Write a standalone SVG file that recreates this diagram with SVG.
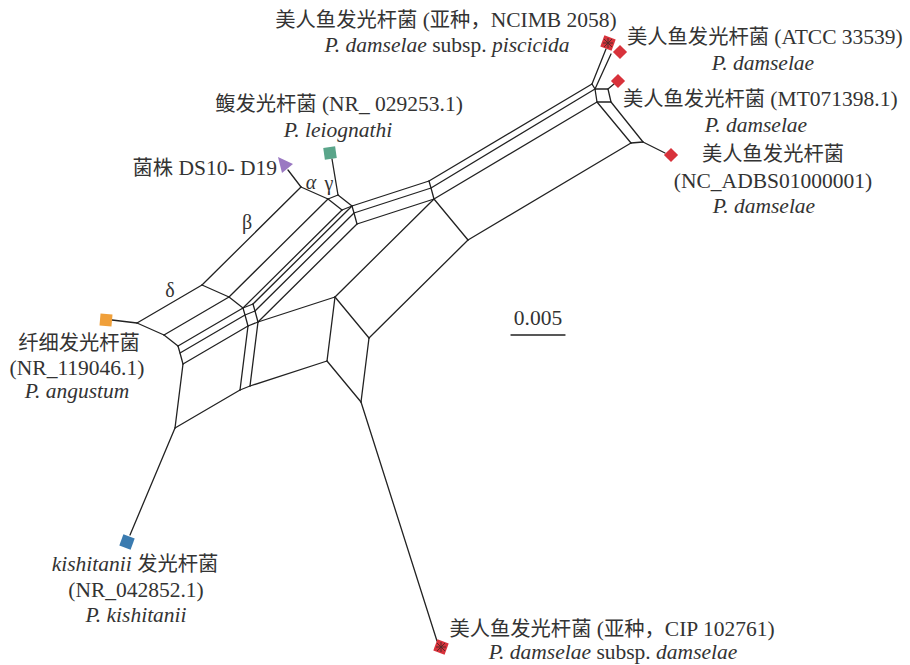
<svg xmlns="http://www.w3.org/2000/svg" width="910" height="665" viewBox="0 0 910 665">
<style>
.e{stroke:#222;stroke-width:1.3;fill:none;stroke-linecap:round;stroke-linejoin:round}
.t{font-family:"Liberation Serif","Noto Sans CJK SC",serif;font-size:21.5px;fill:#333}
.c{font-family:"Noto Sans CJK SC","Liberation Serif",sans-serif;font-size:20.3px}
.i{font-style:italic}
.g{font-family:"Liberation Serif","DejaVu Serif",serif;font-size:20px;fill:#333}
.red{fill:#d8323b}
.ast{stroke:#5a2a2a;stroke-width:1}
</style>
<rect width="910" height="665" fill="#fff"/>
<g id="connectors" class="e">
<path d="M137,323L202,285 M164,335L229,297 M178,346L243,308 M180,353L245,315 M183,364L248,326 M175,428L240,390"/>
<path d="M202,285L301,187 M229,297L328,199 M243,308L342,210 M253,304L352,206 M255,311L354,213 M258,322L357,224 M335,297L434,199 M369,338L468,240"/>
<path d="M137,323L164,335 M202,285L229,297 M301,187L328,199"/>
<path d="M164,335L178,346 M229,297L243,308 M328,199L342,210 M338,195L352,206"/>
<path d="M328,199L338,195 M342,210L352,206 M243,308L253,304 M245,315L255,311 M248,326L258,322 M240,390L250,386"/>
<path d="M178,346L180,353L183,364 M243,308L245,315L248,326 M253,304L255,311L258,322 M352,206L354,213L357,224 M429,181L431,188L434,199"/>
<path d="M183,364L175,428 M248,326L240,390 M258,322L250,386 M335,297L327,361 M369,338L361,402"/>
<path d="M352,206L429,181 M354,213L431,188 M357,224L434,199 M258,322L335,297 M250,386L327,361"/>
<path d="M429,181L592,84 M431,188L595,89 M434,199L597,102 M468,240L631,143"/>
<path d="M434,199L468,240 M335,297L369,338 M327,361L361,402 M597,102L631,143 M611,102L643,142"/>
<path d="M592,84L595,89 M595,89L608,89L611,102L597,102L595,89 M631,143L643,142"/>
<path d="M112,320L137,323 M288,170L301,187 M332,159L338,195 M592,84L606,49 M595,89L611,54 M608,89L614,84 M643,142L665,153 M361,402L437,641 M175,428L130,535"/>
</g>
<g id="n-ncimb">
<rect class="red" x="602" y="37" width="12" height="12" transform="rotate(20 608 43)"/>
<path class="ast" d="M603,43H613M608,38V48M604,39L612,47M612,39L604,47"/>
<text class="t" x="446" y="27" text-anchor="middle"><tspan class="c">美人鱼发光杆菌</tspan> (<tspan class="c">亚种，</tspan>NCIMB 2058)</text>
<text class="t" x="447" y="52" text-anchor="middle"><tspan class="i">P. damselae</tspan> subsp. <tspan class="i">piscicida</tspan></text>
</g>
<g id="n-atcc">
<rect class="red" x="615" y="47" width="10" height="10" transform="rotate(45 620 52)"/>
<text class="t" x="627" y="44"><tspan class="c">美人鱼发光杆菌</tspan> (ATCC 33539)</text>
<text class="t i" x="763" y="70" text-anchor="middle">P. damselae</text>
</g>
<g id="n-mt">
<rect class="red" x="613" y="76" width="10" height="10" transform="rotate(45 618 81)"/>
<text class="t" x="623" y="106"><tspan class="c">美人鱼发光杆菌</tspan> (MT071398.1)</text>
<text class="t i" x="756" y="132" text-anchor="middle">P. damselae</text>
</g>
<g id="n-nc">
<rect class="red" x="666" y="150" width="10" height="10" transform="rotate(45 671 155)"/>
<text class="t" x="773" y="161" text-anchor="middle"><tspan class="c">美人鱼发光杆菌</tspan></text>
<text class="t" x="773" y="188" text-anchor="middle">(NC_ADBS01000001)</text>
<text class="t i" x="764" y="213" text-anchor="middle">P. damselae</text>
</g>
<g id="n-leiognathi">
<rect x="324" y="147" width="12" height="12" fill="#5aa58a" transform="rotate(-8 330 153)"/>
<text class="t" x="339" y="111" text-anchor="middle"><tspan class="c">鳆发光杆菌</tspan> (NR_ 029253.1)</text>
<text class="t i" x="338" y="137" text-anchor="middle">P. leiognathi</text>
</g>
<g id="n-ds10">
<polygon points="278,157 293,164 282,173" fill="#9a78c2"/>
<text class="t" x="277" y="175" text-anchor="end"><tspan class="c">菌株</tspan> DS10- D19</text>
</g>
<g id="n-angustum">
<rect x="100" y="314" width="12" height="12" fill="#f0a03a" transform="rotate(5 106 320)"/>
<text class="t" x="79" y="350" text-anchor="middle"><tspan class="c">纤细发光杆菌</tspan></text>
<text class="t" x="77" y="375" text-anchor="middle">(NR_119046.1)</text>
<text class="t i" x="77" y="398" text-anchor="middle">P. angustum</text>
</g>
<g id="n-kishitanii">
<rect x="121" y="536" width="12" height="12" fill="#3a7bb0" transform="rotate(20 127 542)"/>
<text class="t" x="135" y="571" text-anchor="middle"><tspan class="i">kishitanii</tspan> <tspan class="c">发光杆菌</tspan></text>
<text class="t" x="136" y="597" text-anchor="middle">(NR_042852.1)</text>
<text class="t i" x="136" y="622" text-anchor="middle">P. kishitanii</text>
</g>
<g id="n-cip">
<rect class="red" x="435" y="641" width="12" height="12" transform="rotate(20 441 647)"/>
<path class="ast" d="M436,647H446M441,642V652M437,643L445,651M445,643L437,651"/>
<text class="t" x="612" y="636" text-anchor="middle"><tspan class="c">美人鱼发光杆菌</tspan> (<tspan class="c">亚种，</tspan>CIP 102761)</text>
<text class="t" x="613" y="659" text-anchor="middle"><tspan class="i">P. damselae</tspan> subsp. <tspan class="i">damselae</tspan></text>
</g>
<g id="greek">
<text class="g i" x="311" y="189" text-anchor="middle">α</text>
<text class="g" x="329" y="190" text-anchor="middle">γ</text>
<text class="g" x="247" y="229" text-anchor="middle">β</text>
<text class="g" x="170" y="297" text-anchor="middle">δ</text>
</g>
<g id="scale">
<text class="t" x="538" y="325" text-anchor="middle">0.005</text>
<path class="e" d="M511,335H565"/>
</g>
</svg>
